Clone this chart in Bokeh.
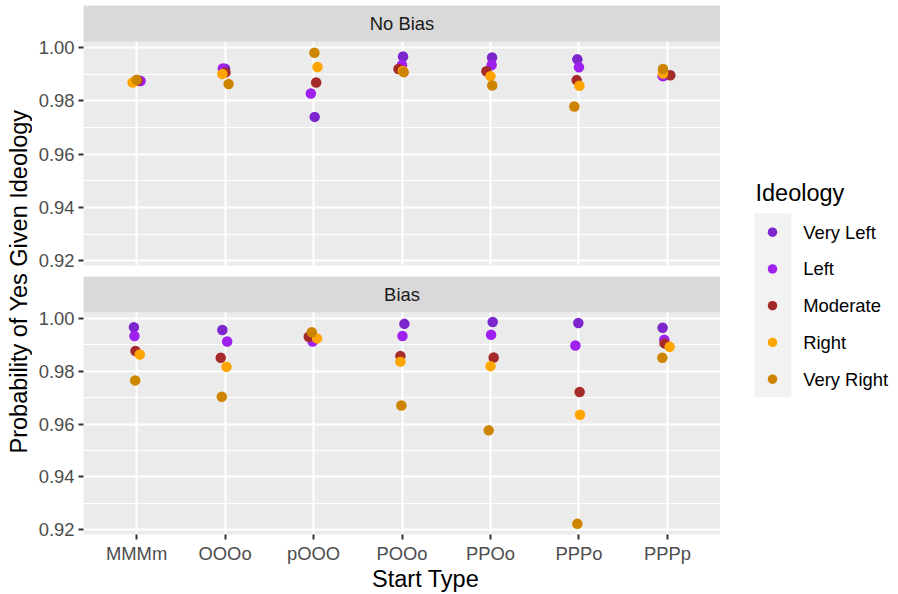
import math
from bokeh.plotting import figure
from bokeh.layouts import row, column
from bokeh.models import (Range1d, FixedTicker, ColumnDataSource, NumeralTickFormatter,
                          BoxAnnotation, Label)
from bokeh.core.properties import value
from bokeh.embed import file_html
from bokeh.resources import INLINE

# ---------------- data ----------------
categories = ["MMMm", "OOOo", "pOOO", "POOo", "PPOo", "PPPo", "PPPp"]
ideologies = ["Very Left", "Left", "Moderate", "Right", "Very Right"]
ideology_colors = ["#7D26CD", "#A020F0", "#A52A2A", "#FFA500", "#CD8500"]
panel_labels = ["No Bias", "Bias"]
y_ticks = [0.92, 0.94, 0.96, 0.98, 1.00]
y_minor = [0.93, 0.95, 0.97, 0.99]

nobias_very_left = [0.9876, 0.9921, 0.9740, 0.9967, 0.9963, 0.9956, 0.9894]
nobias_left = [0.9875, 0.9922, 0.9828, 0.9935, 0.9935, 0.9926, 0.9893]
nobias_moderate = [0.9877, 0.9907, 0.9869, 0.9920, 0.9911, 0.9878, 0.9896]
nobias_right = [0.9869, 0.9901, 0.9927, 0.9912, 0.9893, 0.9857, 0.9903]
nobias_very_right = [0.9879, 0.9863, 0.9981, 0.9908, 0.9858, 0.9779, 0.9920]

bias_very_left = [0.9966, 0.9956, 0.9930, 0.9979, 0.9986, 0.9982, 0.9964]
bias_left = [0.9933, 0.9912, 0.9912, 0.9933, 0.9938, 0.9897, 0.9919]
bias_moderate = [0.9876, 0.9851, 0.9930, 0.9857, 0.9852, 0.9721, 0.9905]
bias_right = [0.9863, 0.9817, 0.9924, 0.9836, 0.9819, 0.9635, 0.9892]
bias_very_right = [0.9765, 0.9703, 0.9947, 0.9670, 0.9576, 0.9223, 0.9851]

# horizontal jitter (category units)
nobias_jit_very_left = [0.03, 0.0, 0.013, 0.012, 0.018, -0.018, -0.04]
nobias_jit_left = [0.045, -0.025, -0.03, 0.0, 0.013, 0.0, -0.054]
nobias_jit_moderate = [0.01, 0.005, 0.03, -0.04, -0.046, -0.026, 0.033]
nobias_jit_right = [-0.045, -0.03, 0.045, 0.01, 0.0, 0.005, -0.05]
nobias_jit_very_right = [0.0, 0.04, 0.01, 0.02, 0.02, -0.052, -0.05]

bias_jit_very_left = [-0.03, -0.03, -0.035, 0.027, 0.025, -0.007, -0.054]
bias_jit_left = [-0.024, 0.024, -0.01, 0.005, 0.007, -0.04, -0.035]
bias_jit_moderate = [-0.012, -0.049, -0.054, -0.018, 0.036, 0.008, -0.032]
bias_jit_right = [0.036, 0.016, 0.04, -0.018, 0.0, 0.012, 0.025]
bias_jit_very_right = [-0.016, -0.037, -0.02, -0.007, -0.02, -0.018, -0.057]

nobias_series = [nobias_very_left, nobias_left, nobias_moderate, nobias_right, nobias_very_right]
nobias_jitter = [nobias_jit_very_left, nobias_jit_left, nobias_jit_moderate, nobias_jit_right, nobias_jit_very_right]
bias_series = [bias_very_left, bias_left, bias_moderate, bias_right, bias_very_right]
bias_jitter = [bias_jit_very_left, bias_jit_left, bias_jit_moderate, bias_jit_right, bias_jit_very_right]

# ---------------- style ----------------
FONT = "Liberation Sans"
TICK_SIZE = "18.4px"
TITLE_SIZE = "23.5px"
PANEL_W = 688
LEFT_B = 51
TOTAL_H = 593

Y_LO, Y_HI = 0.9182, 1.0023          # panel data range (ggplot 5% expansion)
PANEL_PX, STRIP_PX = 224, 36
STRIP_TOP = Y_HI + (Y_HI - Y_LO) * STRIP_PX / PANEL_PX


def base_fig(width, height, xr, yr, **kw):
    f = figure(width=width, height=height, x_range=xr, y_range=yr,
               output_backend="svg", toolbar_location=None,
               min_border_left=kw.pop("left", 0), min_border_right=0,
               min_border_top=kw.pop("top", 0), min_border_bottom=kw.pop("bottom", 0),
               x_axis_location=kw.pop("xloc", None),
               y_axis_location=kw.pop("yloc", None), **kw)
    f.outline_line_color = None
    f.border_fill_color = "white"
    f.background_fill_color = "white"
    return f


def make_facet(label, series, jitter, top, bottom, show_x):
    height = top + STRIP_PX + PANEL_PX + bottom
    p = base_fig(PANEL_W, height, Range1d(0.4, 7.6), Range1d(Y_LO, STRIP_TOP),
                 left=LEFT_B, top=top, bottom=bottom,
                 xloc=("below" if show_x else None), yloc="left")
    p.background_fill_color = "#EBEBEB"
    p.xgrid.ticker = FixedTicker(ticks=list(range(1, len(categories) + 1)))
    p.xgrid.grid_line_color = "white"
    p.xgrid.grid_line_width = 2
    p.xgrid.bounds = (Y_LO, Y_HI)
    p.ygrid.ticker = FixedTicker(ticks=y_ticks, minor_ticks=y_minor)
    p.ygrid.grid_line_color = "white"
    p.ygrid.grid_line_width = 2
    p.ygrid.minor_grid_line_color = "white"
    p.ygrid.minor_grid_line_width = 1.1

    axes = [p.yaxis[0]] + ([p.xaxis[0]] if show_x else [])
    for ax in axes:
        ax.axis_line_color = None
        ax.major_tick_line_color = "#333333"
        ax.major_tick_line_width = 2
        ax.major_tick_out = 5
        ax.major_tick_in = 0
        ax.minor_tick_line_color = None
        ax.major_label_text_font = FONT
        ax.major_label_text_font_size = TICK_SIZE
        ax.major_label_text_color = "#4D4D4D"
    p.yaxis.major_label_standoff = 4
    p.yaxis.ticker = FixedTicker(ticks=y_ticks)
    p.yaxis.formatter = NumeralTickFormatter(format="0.00")
    if show_x:
        p.xaxis.major_label_standoff = 3
        p.xaxis.ticker = FixedTicker(ticks=list(range(1, len(categories) + 1)))
        p.xaxis.major_label_overrides = {i + 1: c for i, c in enumerate(categories)}

    for vals, jit, col in zip(series, jitter, ideology_colors):
        src = ColumnDataSource(dict(x=[i + 1 + j for i, j in enumerate(jit)], y=vals))
        p.scatter(x="x", y="y", source=src, size=10.5, fill_color=col, line_color=None)

    # facet strip
    p.add_layout(BoxAnnotation(bottom=Y_HI, fill_color="#D9D9D9", fill_alpha=1.0,
                               line_color=None))
    p.add_layout(Label(x=4.0, y=(Y_HI + STRIP_TOP) / 2, text=label, text_align="center",
                       text_baseline="middle", text_font=FONT, text_font_size=TICK_SIZE,
                       text_color="#1A1A1A"))
    return p


# y-axis title column (page coordinates)
ytitle = base_fig(32, TOTAL_H, Range1d(0, 32), Range1d(TOTAL_H, 0))
ytitle.grid.visible = False
ytitle.text(x=[18], y=[281], text=["Probability of Yes Given Ideology"], angle=math.pi / 2,
            text_align="center", text_baseline="middle", text_font=value(FONT),
            text_font_size=TITLE_SIZE, text_color="black")

facet1 = make_facet(panel_labels[0], nobias_series, nobias_jitter, 5, 11, False)   # 0 -> 276
facet2 = make_facet(panel_labels[1], bias_series, bias_jitter, 0, 30, True)        # 276 -> 566

xtitle_h = TOTAL_H - 566
xtitle = base_fig(PANEL_W, xtitle_h, Range1d(32, 32 + PANEL_W), Range1d(TOTAL_H, 566))
xtitle.grid.visible = False
xtitle.text(x=[401.5], y=[578], text=["Start Type"], text_align="center",
            text_baseline="middle", text_font=value(FONT),
            text_font_size=TITLE_SIZE, text_color="black")

# legend column (page coordinates)
leg = base_fig(178, TOTAL_H, Range1d(720, 898), Range1d(TOTAL_H, 0))
leg.grid.visible = False
leg.text(x=[755], y=[192.5], text=["Ideology"], text_align="left", text_baseline="middle",
         text_font=value(FONT), text_font_size=TITLE_SIZE, text_color="black")
leg.quad(left=[754], right=[790.7], top=[212.7], bottom=[396.7], fill_color="#F2F2F2", line_color=None)
key_y = [231.7 + i * 36.75 for i in range(len(ideologies))]
leg.scatter(x=[772] * len(ideologies), y=key_y, size=9.5, fill_color=ideology_colors, line_color=None)
leg.text(x=[802.7] * len(ideologies), y=key_y, text=ideologies, text_align="left",
         text_baseline="middle", text_font=value(FONT), text_font_size=TICK_SIZE, text_color="black")

layout = row(ytitle, column(facet1, facet2, xtitle), leg)

open("out.html", "w").write(file_html(layout, INLINE))
